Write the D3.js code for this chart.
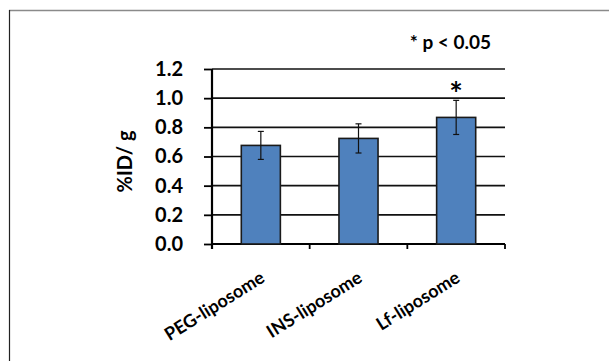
<!DOCTYPE html>
<html>
<head>
<meta charset="utf-8">
<script src="https://cdn.jsdelivr.net/npm/d3@7"></script>
<style>
  body { margin: 0; background: #fff; }
  svg { display: block; }
  text { font-family: Lato, "Open Sans", sans-serif; font-weight: 700; fill: #000; }
</style>
</head>
<body>
<div id="chart"></div>
<script>
// data
const categories = ['PEG-liposome', 'INS-liposome', 'Lf-liposome'];
const means = [0.676, 0.724, 0.868];
const errors = [0.096, 0.1, 0.117];
const significant = [false, false, true];
const yTicks = [0, 0.2, 0.4, 0.6, 0.8, 1.0, 1.2];

const W = 609, H = 361;
const margin = { left: 212, top: 69, right: 104, bottom: 117 };
const width = W - margin.left - margin.right;
const height = H - margin.top - margin.bottom;

const svg = d3.select('#chart').append('svg')
  .attr('width', W)
  .attr('height', H);

// figure frame (top + left edge only)
svg.append('line')
  .attr('x1', 9).attr('x2', W).attr('y1', 10.5).attr('y2', 10.5)
  .attr('stroke', '#8a8a8a').attr('stroke-width', 1.5);
svg.append('line')
  .attr('x1', 9.5).attr('x2', 9.5).attr('y1', 10).attr('y2', H)
  .attr('stroke', '#222').attr('stroke-width', 1.2);

const g = svg.append('g')
  .attr('transform', 'translate(' + margin.left + ',' + margin.top + ')');

const x = d3.scaleBand()
  .domain(categories)
  .range([0, width])
  .paddingInner(0.6)
  .paddingOuter(0.3);

const y = d3.scaleLinear()
  .domain([0, 1.2])
  .range([height, 0]);

// gridlines
g.append('g')
  .selectAll('line')
  .data(yTicks.filter(d => d > 0))
  .enter().append('line')
  .attr('x1', 0).attr('x2', width)
  .attr('y1', d => y(d)).attr('y2', d => y(d))
  .attr('stroke', '#111').attr('stroke-width', 1.6);

// y axis
const yAxis = g.append('g')
  .call(d3.axisLeft(y).tickValues(yTicks).tickFormat(d3.format('.1f')).tickSize(8).tickPadding(21));
yAxis.select('.domain').attr('stroke-width', 2.2).attr('d', 'M0,' + (height + 5) + 'V0');
yAxis.selectAll('.tick line').attr('stroke-width', 1.8);
yAxis.selectAll('.tick text')
  .attr('font-size', '20px')
  .attr('font-family', 'Lato, sans-serif')
  .attr('font-weight', 700)
  .attr('fill', '#111');

// x axis with ticks at category boundaries
const step = width / categories.length;
g.append('line')
  .attr('x1', 0).attr('x2', width)
  .attr('y1', height).attr('y2', height)
  .attr('stroke', '#000').attr('stroke-width', 2.2);
g.append('g')
  .selectAll('line')
  .data(d3.range(categories.length + 1))
  .enter().append('line')
  .attr('x1', d => d * step).attr('x2', d => d * step)
  .attr('y1', height).attr('y2', height + 5)
  .attr('stroke', '#000').attr('stroke-width', 1.8);

// bars
g.selectAll('rect.bar')
  .data(means)
  .enter().append('rect')
  .attr('class', 'bar')
  .attr('x', (d, i) => x(categories[i]))
  .attr('y', d => y(d))
  .attr('width', x.bandwidth())
  .attr('height', d => height - y(d))
  .attr('fill', '#4f81bd')
  .attr('stroke', '#1a1a1a')
  .attr('stroke-width', 1.6);

// error bars
const eb = g.selectAll('g.err')
  .data(means)
  .enter().append('g')
  .attr('class', 'err')
  .attr('transform', (d, i) => 'translate(' + (x(categories[i]) + x.bandwidth() / 2) + ',0)');
eb.append('line')
  .attr('y1', (d, i) => y(d + errors[i]))
  .attr('y2', (d, i) => y(d - errors[i]))
  .attr('stroke', '#111').attr('stroke-width', 1.2);
eb.append('line')
  .attr('x1', -3).attr('x2', 3)
  .attr('y1', (d, i) => y(d + errors[i])).attr('y2', (d, i) => y(d + errors[i]))
  .attr('stroke', '#111').attr('stroke-width', 1.2);
eb.append('line')
  .attr('x1', -3).attr('x2', 3)
  .attr('y1', (d, i) => y(d - errors[i])).attr('y2', (d, i) => y(d - errors[i]))
  .attr('stroke', '#111').attr('stroke-width', 1.2);

// significance star
eb.filter((d, i) => significant[i])
  .append('text')
  .attr('y', (d, i) => y(d + errors[significant.indexOf(true)]) + 6)
  .attr('text-anchor', 'middle')
  .attr('font-size', '32px')
  .text('*');

// category labels, rotated
g.append('g')
  .selectAll('text')
  .data(categories)
  .enter().append('text')
  .attr('text-anchor', 'end')
  .attr('font-size', '18px')
  .attr('transform', d => 'translate(' + (x(d) + x.bandwidth() / 2 + 5) + ',' + (height + 37) + ') rotate(-32)')
  .text(d => d);

// y label
g.append('text')
  .attr('transform', 'translate(-80,' + (height / 2 + 5) + ') rotate(-90)')
  .attr('text-anchor', 'middle')
  .attr('font-size', '20px')
  .text('%ID/ g');

// legend note
svg.append('text')
  .attr('x', 491)
  .attr('y', 49)
  .attr('text-anchor', 'end')
  .attr('font-size', '19px')
  .text('* p < 0.05');
</script>
</body>
</html>
